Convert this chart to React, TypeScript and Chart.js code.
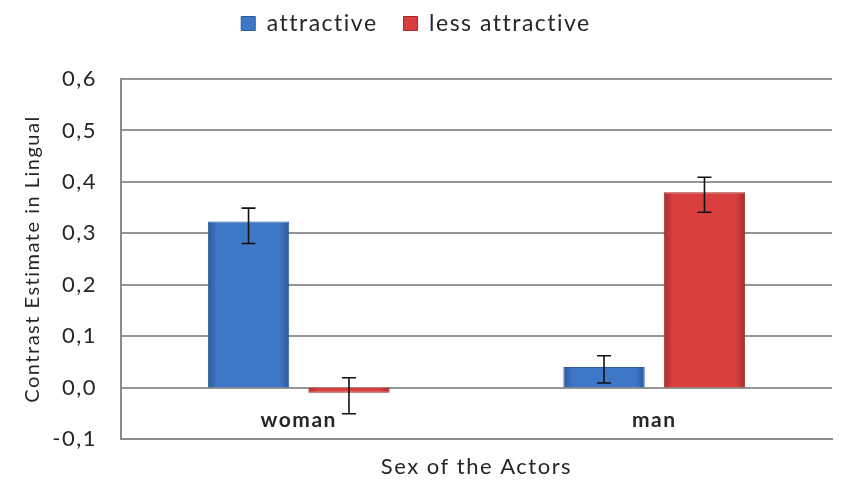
import React, { useEffect, useRef } from "react";
import { Chart, registerables } from "chart.js";

Chart.register(...registerables);

const categories = ["woman", "man"];
const seriesNames = ["attractive", "less attractive"];
const attractive = [0.323, 0.04];
const attractiveLow = [0.28, 0.009];
const attractiveHigh = [0.349, 0.062];
const lessAttractive = [-0.01, 0.38];
const lessAttractiveLow = [-0.051, 0.341];
const lessAttractiveHigh = [0.019, 0.409];
const yMin = -0.1;
const yMax = 0.6;
const yStep = 0.1;

const FONT = "Lato";
const TEXT = "#262626";

const palette = [
  { mid: "#3f77c7", edge: "#2b5b9e", border: "#2c5a9a" },
  { mid: "#d93f3f", edge: "#a82e2e", border: "#9c2c2c" },
];

const errLow = [attractiveLow, lessAttractiveLow];
const errHigh = [attractiveHigh, lessAttractiveHigh];

const spacingPlugin = {
  id: "spacing",
  afterInit(chart: any) {
    const legend = chart.legend;
    if (legend && !legend.__patched) {
      const orig = legend.fit.bind(legend);
      legend.fit = function () {
        orig();
        this.height += 34;
      };
      legend.__patched = true;
    }
  },
  beforeLayout(chart: any) {
    chart.ctx.letterSpacing = "1.5px";
  },
  beforeDraw(chart: any) {
    chart.ctx.letterSpacing = "1.5px";
  },
};

const gradientPlugin = {
  id: "barGradient",
  beforeDatasetsDraw(chart: any) {
    const ctx = chart.ctx;
    chart.data.datasets.forEach((ds: any, i: number) => {
      const meta = chart.getDatasetMeta(i);
      const p = palette[i];
      meta.data.forEach((el: any) => {
        const w = el.width;
        const x0 = el.x - w / 2;
        const g = ctx.createLinearGradient(x0, 0, x0 + w, 0);
        g.addColorStop(0, p.edge);
        g.addColorStop(0.12, p.mid);
        g.addColorStop(0.88, p.mid);
        g.addColorStop(1, p.edge);
        el.options = Object.assign({}, el.options, { backgroundColor: g });
      });
    });
  },
};

const errorBarPlugin = {
  id: "errorBars",
  afterDatasetsDraw(chart: any) {
    const ctx = chart.ctx;
    const y = chart.scales.y;
    ctx.save();
    ctx.strokeStyle = "#111";
    ctx.lineWidth = 1.6;
    chart.data.datasets.forEach((ds: any, i: number) => {
      const meta = chart.getDatasetMeta(i);
      meta.data.forEach((el: any, j: number) => {
        const top = y.getPixelForValue(errHigh[i][j]);
        const bot = y.getPixelForValue(errLow[i][j]);
        const cap = 7;
        ctx.beginPath();
        ctx.moveTo(el.x, top);
        ctx.lineTo(el.x, bot);
        ctx.moveTo(el.x - cap, top);
        ctx.lineTo(el.x + cap, top);
        ctx.moveTo(el.x - cap, bot);
        ctx.lineTo(el.x + cap, bot);
        ctx.stroke();
      });
    });
    ctx.restore();
  },
};

export default function App() {
  const ref = useRef<HTMLCanvasElement | null>(null);
  useEffect(() => {
    if (!ref.current) return;
    const chart = new Chart(ref.current, {
      type: "bar",
      data: {
        labels: categories,
        datasets: [
          {
            label: seriesNames[0],
            data: attractive,
            backgroundColor: () => palette[0].mid,
            borderColor: palette[0].border,
            borderWidth: 1,
            barPercentage: 0.81,
            categoryPercentage: 0.565,
          },
          {
            label: seriesNames[1],
            data: lessAttractive,
            backgroundColor: () => palette[1].mid,
            borderColor: palette[1].border,
            borderWidth: 1,
            barPercentage: 0.81,
            categoryPercentage: 0.565,
          },
        ],
      },
      options: {
        animation: false,
        responsive: true,
        maintainAspectRatio: false,
        layout: { padding: { top: -14, right: 18, bottom: 0, left: 0 } },
        plugins: {
          tooltip: { enabled: false },
          legend: {
            position: "top",
            labels: {
              boxWidth: 14,
              boxHeight: 14,
              padding: 26,
              color: TEXT,
              font: { family: FONT, size: 23 },
              generateLabels: (chart: any) =>
                chart.data.datasets.map((ds: any, i: number) => ({
                  text: ds.label,
                  fillStyle: palette[i].mid,
                  strokeStyle: palette[i].border,
                  lineWidth: 1,
                  fontColor: TEXT,
                  datasetIndex: i,
                  hidden: false,
                })),
            },
          },
        },
        scales: {
          x: {
            grid: { display: false, drawTicks: false },
            border: { display: true, color: "#8a8a8a", width: 2 },
            ticks: { display: false },
            title: {
              display: true,
              text: "Sex of the Actors",
              color: TEXT,
              font: { family: FONT, size: 22 },
              padding: { top: 0, bottom: 8 },
            },
            afterFit(scale: any) {
              scale.height = 49;
            },
          },
          xLabels: {
            type: "category",
            axis: "x",
            position: { y: 0 },
            offset: true,
            grid: { display: false, drawTicks: false },
            border: { display: false },
            ticks: {
              color: TEXT,
              padding: 20,
              font: { family: FONT, size: 21, weight: "bold" },
            },
          },
          y: {
            min: yMin,
            max: yMax,
            ticks: {
              stepSize: yStep,
              color: TEXT,
              padding: 24,
              font: { family: FONT, size: 22 },
              callback: (v: any) => {
                const n = Math.abs(Number(v)) < 1e-9 ? 0 : Number(v);
                return n.toFixed(1).replace(".", ",");
              },
            },
            grid: { color: "#959595", lineWidth: 2, drawTicks: false },
            border: { display: true, color: "#8a8a8a", width: 2 },
            title: {
              display: true,
              text: "Contrast Estimate in Lingual",
              color: TEXT,
              font: { family: FONT, size: 20 },
              padding: { top: 21, bottom: 0 },
            },
            afterFit(scale: any) {
              scale.width = 121;
            },
          },
        },
      },
      plugins: [spacingPlugin, gradientPlugin, errorBarPlugin],
    });
    return () => chart.destroy();
  }, []);
  return (
    <div style={{ position: "absolute", left: 0, top: 0, width: 850, height: 488 }}>
      <canvas ref={ref} />
    </div>
  );
}
